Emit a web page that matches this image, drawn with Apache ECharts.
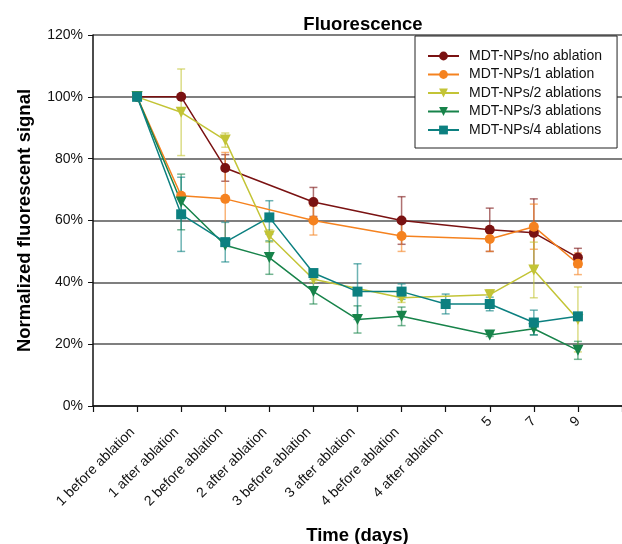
<!DOCTYPE html>
<html>
<head>
<meta charset="utf-8">
<script src="https://cdn.jsdelivr.net/npm/echarts@6/dist/echarts.min.js"></script>
<style>html,body{margin:0;padding:0;background:#fff}#c{width:622px;height:544px}</style>
</head>
<body>
<div id="c"></div>
<script>
// Category labels (blank ends pad the axis to the left and right)
var xLabels = ['', '1 before ablation', '1 after ablation', '2 before ablation', '2 after ablation',
  '3 before ablation', '3 after ablation', '4 before ablation', '4 after ablation', '5', '7', '9', ''];
var seriesNames = ['MDT-NPs/no ablation', 'MDT-NPs/1 ablation', 'MDT-NPs/2 ablations', 'MDT-NPs/3 ablations', 'MDT-NPs/4 ablations'];
// values (%) at categories 1..11 (null = not measured)
var noAbl    = [100, 100, 77, null, 66, null, 60, null, 57, 56, 48];
var oneAbl   = [100, 68, 67, null, 60, null, 55, null, 54, 58, 46];
var twoAbl   = [100, 95, 86, 55, 41, null, 35, null, 36, 44, 28];
var threeAbl = [100, 66, 52, 48, 37, 28, 29, null, 23, 25, 18];
var fourAbl  = [100, 62, 53, 61, 43, 37, 37, 33, 33, 27, 29];
// error (+/-, %)
var noAblErr    = [0, 0, 4.3, null, 4.7, null, 7.7, null, 7, 11, 3];
var oneAblErr   = [0, 0, 15, null, 4.7, null, 5, null, 4, 7.3, 3.5];
var twoAblErr   = [0, 14, 2.3, 2, 1, null, 1.5, null, 1.6, 9, 10.5];
var threeAblErr = [0, 9, 0, 5.4, 4, 4.4, 3, null, 0.5, 2, 2.9];
var fourAblErr  = [0, 12, 6.4, 5.4, 1, 9, 2.5, 3.2, 2.2, 4, 0];
var colors = ['#7a1212', '#f5821f', '#c3c436', '#17834a', '#0c8080'];
var symbols = ['circle', 'circle', 'triangle', 'triangle', 'rect'];
var rotations = [0, 0, 180, 180, 0];
var symbolSizes = [10, 10, 11, 11, 10];

var allVals = [noAbl, oneAbl, twoAbl, threeAbl, fourAbl];
var allErrs = [noAblErr, oneAblErr, twoAblErr, threeAblErr, fourAblErr];
var FONT = 'Arial, "Liberation Sans", sans-serif';

var series = [];
allVals.forEach(function (vals, s) {
  var errData = [];
  vals.forEach(function (v, i) {
    var e = allErrs[s][i];
    if (v != null && e) errData.push([i + 1, v - e, v + e]);
  });
  series.push({
    type: 'custom',
    name: seriesNames[s] + ' err',
    z: 1,
    data: errData,
    renderItem: function (params, api) {
      var x = api.value(0);
      var lo = api.coord([x, api.value(1)]);
      var hi = api.coord([x, api.value(2)]);
      var w = 4;
      var st = { stroke: colors[s], lineWidth: 1.5, opacity: 0.6 };
      return {
        type: 'group',
        children: [
          { type: 'line', shape: { x1: lo[0], y1: lo[1], x2: hi[0], y2: hi[1] }, style: st },
          { type: 'line', shape: { x1: lo[0] - w, y1: lo[1], x2: lo[0] + w, y2: lo[1] }, style: st },
          { type: 'line', shape: { x1: hi[0] - w, y1: hi[1], x2: hi[0] + w, y2: hi[1] }, style: st }
        ]
      };
    }
  });
});
allVals.forEach(function (vals, s) {
  var d = [];
  vals.forEach(function (v, i) { if (v != null) d.push([i + 1, v]); });
  series.push({
    type: 'line',
    name: seriesNames[s],
    data: d,
    z: 3,
    symbol: symbols[s],
    symbolRotate: rotations[s],
    symbolSize: symbolSizes[s],
    showAllSymbol: true,
    color: colors[s],
    lineStyle: { width: 1.5, color: colors[s] },
    itemStyle: { color: colors[s] }
  });
});

var chart = echarts.init(document.getElementById('c'));
chart.setOption({
  animation: false,
  textStyle: { fontFamily: FONT },
  title: {
    text: 'Fluorescence', left: 358, top: 10, textAlign: 'center',
    textStyle: { fontSize: 18.5, fontWeight: 'bold', color: '#000', fontFamily: FONT }
  },
  legend: {
    data: seriesNames, orient: 'vertical', left: 415, top: 36,
    itemWidth: 31, itemHeight: 11, itemGap: 4.5,
    padding: [13, 15, 11, 12],
    backgroundColor: '#fff', borderColor: '#222', borderWidth: 1,
    textStyle: { fontSize: 14, color: '#111', padding: [0, 0, 0, 5] }
  },
  grid: { left: 93, right: 0, top: 35, bottom: 138, outerBoundsMode: 'none', containLabel: false },
  xAxis: {
    type: 'category', data: xLabels, boundaryGap: false,
    name: 'Time (days)', nameLocation: 'middle', nameGap: 120,
    nameTextStyle: { fontSize: 18.5, fontWeight: 'bold', color: '#000' },
    axisLine: { lineStyle: { color: '#111', width: 1.5 } },
    axisTick: { show: true, length: 6, interval: 0, lineStyle: { color: '#111', width: 1.2 } },
    axisLabel: {
      interval: 0, rotate: 45, margin: 13, fontSize: 14, color: '#111',
      formatter: function (v) { return v.length > 2 ? '{L|' + v + '}' : '{S|' + v + '}'; },
      rich: {
        L: { fontSize: 14, color: '#111', padding: [9, 11, 0, 0] },
        S: { fontSize: 14, color: '#111' }
      }
    },
    splitLine: { show: false }
  },
  yAxis: {
    type: 'value', min: 0, max: 120, interval: 20,
    name: 'Normalized fluorescent signal', nameLocation: 'middle', nameGap: 59,
    nameTextStyle: { fontSize: 18.5, fontWeight: 'bold', color: '#000' },
    axisLine: { show: true, lineStyle: { color: '#111', width: 1.5 } },
    axisTick: { show: true, length: 5, lineStyle: { color: '#111' } },
    axisLabel: { formatter: '{value}%', fontSize: 14, color: '#111', margin: 10 },
    splitLine: { show: true, lineStyle: { color: '#555', width: 1.5 } }
  },
  series: series
});
</script>
</body>
</html>
